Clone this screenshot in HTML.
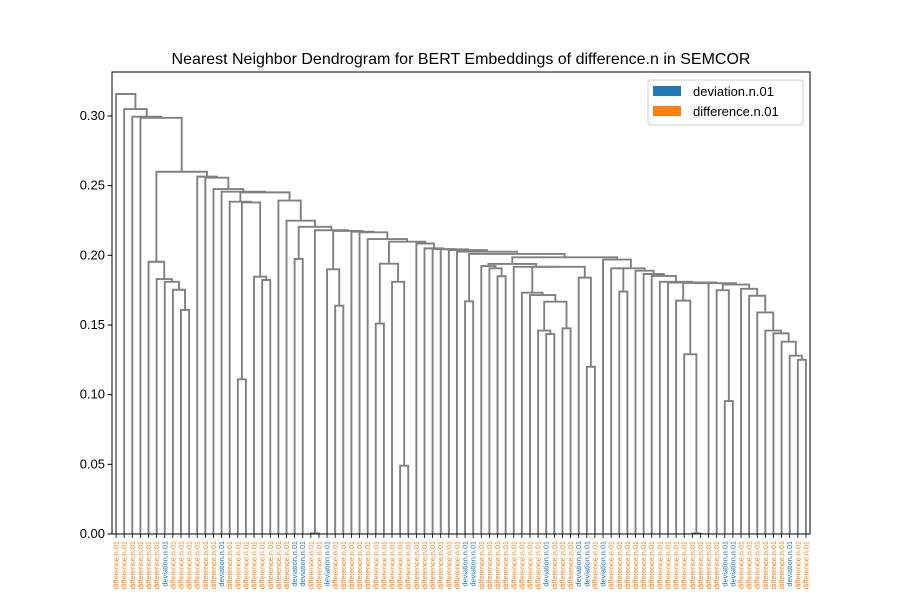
<!DOCTYPE html>
<html><head><meta charset="utf-8"><style>
html,body{margin:0;padding:0;background:#fff;}
svg{display:block;font-family:"Liberation Sans","DejaVu Sans",sans-serif;}
</style></head><body>
<svg id="chart" width="900" height="600" viewBox="0 0 900 600" xmlns="http://www.w3.org/2000/svg">
<rect width="900" height="600" fill="#fff"/>
<text x="461" y="64" text-anchor="middle" font-size="16" fill="#000">Nearest Neighbor Dendrogram for BERT Embeddings of difference.n in SEMCOR</text>
<g id="links"></g>
<g id="yaxis"></g>
<g id="xlabels"></g>
<rect x="112" y="72" width="698" height="462" fill="none" stroke="#000" stroke-width="1"/>
<g>
<rect x="648" y="80" width="155" height="45" rx="3" fill="#fff" stroke="#ccc" stroke-width="1"/>
<rect x="653" y="86" width="28" height="10" fill="#1f77b4"/>
<text x="693" y="96" font-size="13" fill="#000">deviation.n.01</text>
<rect x="653" y="106" width="28" height="10" fill="#ff7f0e"/>
<text x="693" y="116" font-size="13" fill="#000">difference.n.01</text>
</g>
</svg>
<script>
// ---- data ----
const leafCount = 86;
const blueLeaves = [6,13,22,23,26,43,44,53,57,58,60,75,76,83];
const senseNames = ["deviation.n.01","difference.n.01"];
const yTicks = [0,0.05,0.10,0.15,0.20,0.25,0.30];
const yTickLabels = ["0.00","0.05","0.10","0.15","0.20","0.25","0.30"];
// nodes: [left, right, height]; leaves are indices in display order
const nodeH = [8,9,0.1608];
const nodeG = [7,nodeH,0.1753];
const nodeF = [6,nodeG,0.181];
const nodeE = [5,nodeF,0.183];
const nodeD = [4,nodeE,0.1954];
const nodeR1 = [[32,33,0.151],[34,[35,36,0.049],0.181],0.194];
const nodeTail = [77,[78,[79,[80,[81,[82,[83,[84,85,0.125],0.128],0.138],0.144],0.146],0.159],0.171],0.176];
const nodeC2 = [[74,[75,76,0.0954],0.175],nodeTail,0.179];
const nodeA2 = [[69,[70,[71,72,0.0005],0.129],0.1675],73,0.1802];
const nodeB2 = [nodeA2,nodeC2,0.1800];
const nodeG0 = [60,[[61,[62,63,0.174],0.1907],[64,[65,[66,[67,[68,nodeB2,0.1805],0.181],0.1852],0.1866],0.189],0.1907],0.197];
const nodeS = [[52,[53,54,0.1435],0.146],[55,56,0.1476],0.1667];
const nodeV = [50,[51,nodeS,0.1715],0.1732];
const nodeW = [57,[58,59,0.12],0.184];
const nodeT2 = [49,[nodeV,nodeW,0.1918],0.1918];
const nodeP = [[45,[46,[47,48,0.185],0.1907],0.1923],nodeT2,0.1938];
const nodeN2 = [42,[[43,44,0.167],[nodeP,nodeG0,0.1986],0.201],0.2026];
const nodeChain = [37,[38,[39,[40,[41,nodeN2,0.2038],0.2043],0.2045],0.205],0.2085];
const nodeZ = [[24,25,0.0005],[[26,[27,28,0.1639],0.19],[29,[30,[31,[nodeR1,nodeChain,0.2098],0.2117],0.2165],0.217],0.2175],0.218];
const nodeY = [20,[21,[[22,23,0.1974],nodeZ,0.2205],0.2249],0.2393];
const nodeP2 = [14,[[15,16,0.111],[17,[18,19,0.1823],0.1847],0.238],0.2385];
const nodeI = [10,[11,[12,[13,[nodeP2,nodeY,0.2452],0.2457],0.2476],0.2557],0.2565];
const root = [0,[1,[2,[3,[nodeD,nodeI,0.260],0.2987],0.2995],0.305],0.3158];

// ---- axes ----
const X0=112, X1=810, Y0=534, YTOP=72, PXU=1393.3;
const NS="http://www.w3.org/2000/svg";
function xLeaf(i){return X0+(i+0.5)*(X1-X0)/leafCount;}
function yVal(v){return Y0-v*PXU;}

const links=document.getElementById('links');
function layout(n){
  if(typeof n==='number') return {x:xLeaf(n),h:0};
  const l=layout(n[0]), r=layout(n[1]), h=n[2];
  const p=document.createElementNS(NS,'path');
  p.setAttribute('d',`M${l.x},${yVal(l.h)}V${yVal(h)}H${r.x}V${yVal(r.h)}`);
  p.setAttribute('fill','none');p.setAttribute('stroke','#808080');p.setAttribute('stroke-width','1.9');
  
  
  links.appendChild(p);
  return {x:(l.x+r.x)/2,h:h};
}
layout(root);

const ya=document.getElementById('yaxis');
yTicks.forEach((v,k)=>{
  const y=yVal(v);
  const t=document.createElementNS(NS,'line');
  t.setAttribute('x1',X0-4.5);t.setAttribute('x2',X0);t.setAttribute('y1',y);t.setAttribute('y2',y);
  t.setAttribute('stroke','#000');
  
  
  ya.appendChild(t);
  const tx=document.createElementNS(NS,'text');
  tx.setAttribute('x',X0-7);tx.setAttribute('y',y+4);tx.setAttribute('text-anchor','end');tx.setAttribute('font-size','13');
  tx.textContent=yTickLabels[k];
  
  
  ya.appendChild(tx);
});

const xl=document.getElementById('xlabels');
for(let i=0;i<leafCount;i++){
  const x=xLeaf(i), blue=blueLeaves.includes(i);
  const tk=document.createElementNS(NS,'line');
  tk.setAttribute('x1',x);tk.setAttribute('x2',x);tk.setAttribute('y1',Y0);tk.setAttribute('y2',Y0+4);
  tk.setAttribute('stroke','#000');tk.setAttribute('stroke-width','0.8');
  
  
  xl.appendChild(tk);
  const t=document.createElementNS(NS,'text');
  t.setAttribute('transform',`translate(${x+2.5},541) rotate(-90)`);
  t.setAttribute('text-anchor','end');t.setAttribute('font-size','7.3');
  t.setAttribute('fill',blue?'#1f77b4':'#ff7f0e');
  t.textContent=blue?senseNames[0]:senseNames[1];
  
  
  xl.appendChild(t);
}
</script>
</body></html>
